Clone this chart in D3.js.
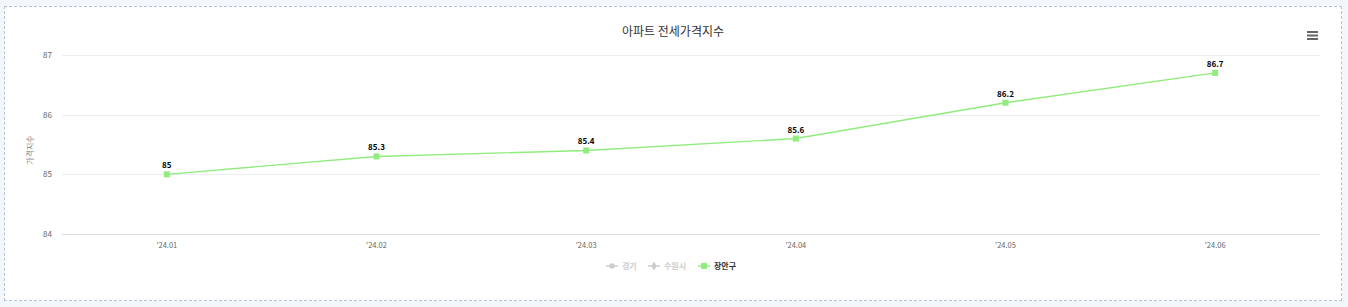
<!DOCTYPE html>
<html>
<head>
<meta charset="utf-8">
<script src="https://cdn.jsdelivr.net/npm/d3@7/dist/d3.min.js"></script>
<style>
  html, body { margin: 0; padding: 0; background: #f3f6fb; }
  body { width: 1348px; height: 307px; overflow: hidden; }
  #wrap {
    position: absolute; left: 4px; top: 6px; width: 1336px; height: 293px;
    border: 1px dashed #b3c2d8; background: #fff;
  }
  svg { display: block; font-family: "Noto Sans CJK KR", "Noto Sans", sans-serif; }
</style>
</head>
<body>
<div id="wrap"></div>
<script>
  var categories = ["'24.01", "'24.02", "'24.03", "'24.04", "'24.05", "'24.06"];
  var jangan = [85, 85.3, 85.4, 85.6, 86.2, 86.7];
  var yTicks = [84, 85, 86, 87];
  var legendItems = [
    { name: "경기", visible: false, symbol: "circle" },
    { name: "수원시", visible: false, symbol: "diamond" },
    { name: "장안구", visible: true, symbol: "square" }
  ];

  var width = 1336, height = 293;
  var ox = 5, oy = 7; // wrap offset in page
  var svg = d3.select("#wrap").append("svg")
    .attr("width", width)
    .attr("height", height);

  var green = "#90ed7d";

  // plot area in page coords, shifted into wrap coords
  var x = d3.scaleBand().domain(categories).range([62 - ox, 1320 - ox]);
  var y = d3.scaleLinear().domain([84, 87]).range([234 - oy, 55 - oy]);

  // title
  svg.append("text")
    .attr("x", 673 - ox).attr("y", 36 - oy)
    .attr("text-anchor", "middle")
    .attr("font-size", "12px")
    .attr("fill", "#333")
    .text("아파트 전세가격지수");

  // menu icon
  var menu = svg.append("g").attr("transform", "translate(" + (1307 - ox) + "," + (31 - oy) + ")");
  [0, 3.5, 7].forEach(function (d) {
    menu.append("rect").attr("x", 0).attr("y", d).attr("width", 11).attr("height", 2)
      .attr("fill", "#666");
  });

  // grid
  svg.append("g").selectAll("line")
    .data(yTicks)
    .enter().append("line")
    .attr("x1", x.range()[0]).attr("x2", x.range()[1])
    .attr("y1", function (d) { return Math.round(y(d)) + 0.5; })
    .attr("y2", function (d) { return Math.round(y(d)) + 0.5; })
    .attr("stroke", function (d) { return d === 84 ? "#d8dbe6" : "#eceef2"; })
    .attr("stroke-width", 1);

  // y labels
  svg.append("g").selectAll("text")
    .data(yTicks)
    .enter().append("text")
    .attr("x", 52 - ox)
    .attr("y", function (d) { return y(d) + 3; })
    .attr("text-anchor", "end")
    .attr("font-size", "8px")
    .attr("fill", "#666")
    .text(function (d) { return d; });

  // y title
  svg.append("text")
    .attr("transform", "translate(" + (33 - ox) + "," + (150 - oy) + ") rotate(-90)")
    .attr("text-anchor", "middle")
    .attr("font-size", "8px")
    .attr("fill", "#888")
    .text("가격지수");

  // x labels
  svg.append("g").selectAll("text")
    .data(categories)
    .enter().append("text")
    .attr("x", function (d) { return x(d) + x.bandwidth() / 2; })
    .attr("y", 248 - oy)
    .attr("text-anchor", "middle")
    .attr("font-size", "7.5px")
    .attr("fill", "#666")
    .text(function (d) { return d; });

  // line
  var line = d3.line()
    .x(function (d, i) { return x(categories[i]) + x.bandwidth() / 2; })
    .y(function (d) { return y(d); });

  svg.append("path")
    .datum(jangan)
    .attr("d", line)
    .attr("fill", "none")
    .attr("stroke", green)
    .attr("stroke-width", 1.4);

  svg.append("g").selectAll("rect")
    .data(jangan)
    .enter().append("rect")
    .attr("x", function (d, i) { return x(categories[i]) + x.bandwidth() / 2 - 3; })
    .attr("y", function (d) { return y(d) - 3; })
    .attr("width", 6).attr("height", 6)
    .attr("fill", green);

  // data labels
  svg.append("g").selectAll("text")
    .data(jangan)
    .enter().append("text")
    .attr("x", function (d, i) { return x(categories[i]) + x.bandwidth() / 2; })
    .attr("y", function (d) { return y(d) - 6; })
    .attr("text-anchor", "middle")
    .attr("font-size", "8px")
    .attr("font-weight", "bold")
    .attr("fill", "#000")
    .attr("stroke", "#fff")
    .attr("stroke-width", 2)
    .attr("paint-order", "stroke")
    .text(function (d) { return d; });

  // legend
  var legendX = [606, 648, 698];
  var symbolType = { circle: d3.symbolCircle, diamond: d3.symbolDiamond, square: d3.symbolSquare };
  var lg = svg.append("g");
  legendItems.forEach(function (item, i) {
    var col = item.visible ? green : "#ccc";
    var g = lg.append("g").attr("transform", "translate(" + (legendX[i] - ox) + "," + (266 - oy) + ")");
    g.append("line").attr("x1", 0).attr("x2", 12).attr("y1", 0).attr("y2", 0)
      .attr("stroke", col).attr("stroke-width", 1.4);
    g.append("path")
      .attr("transform", "translate(6,0)")
      .attr("d", d3.symbol().type(symbolType[item.symbol]).size(item.visible ? 36 : 24)())
      .attr("fill", col);
    g.append("text").attr("x", 16).attr("y", 3)
      .attr("font-size", "8px")
      .attr("font-weight", "bold")
      .attr("fill", item.visible ? "#333" : "#ccc")
      .text(item.name);
  });
</script>
</body>
</html>
